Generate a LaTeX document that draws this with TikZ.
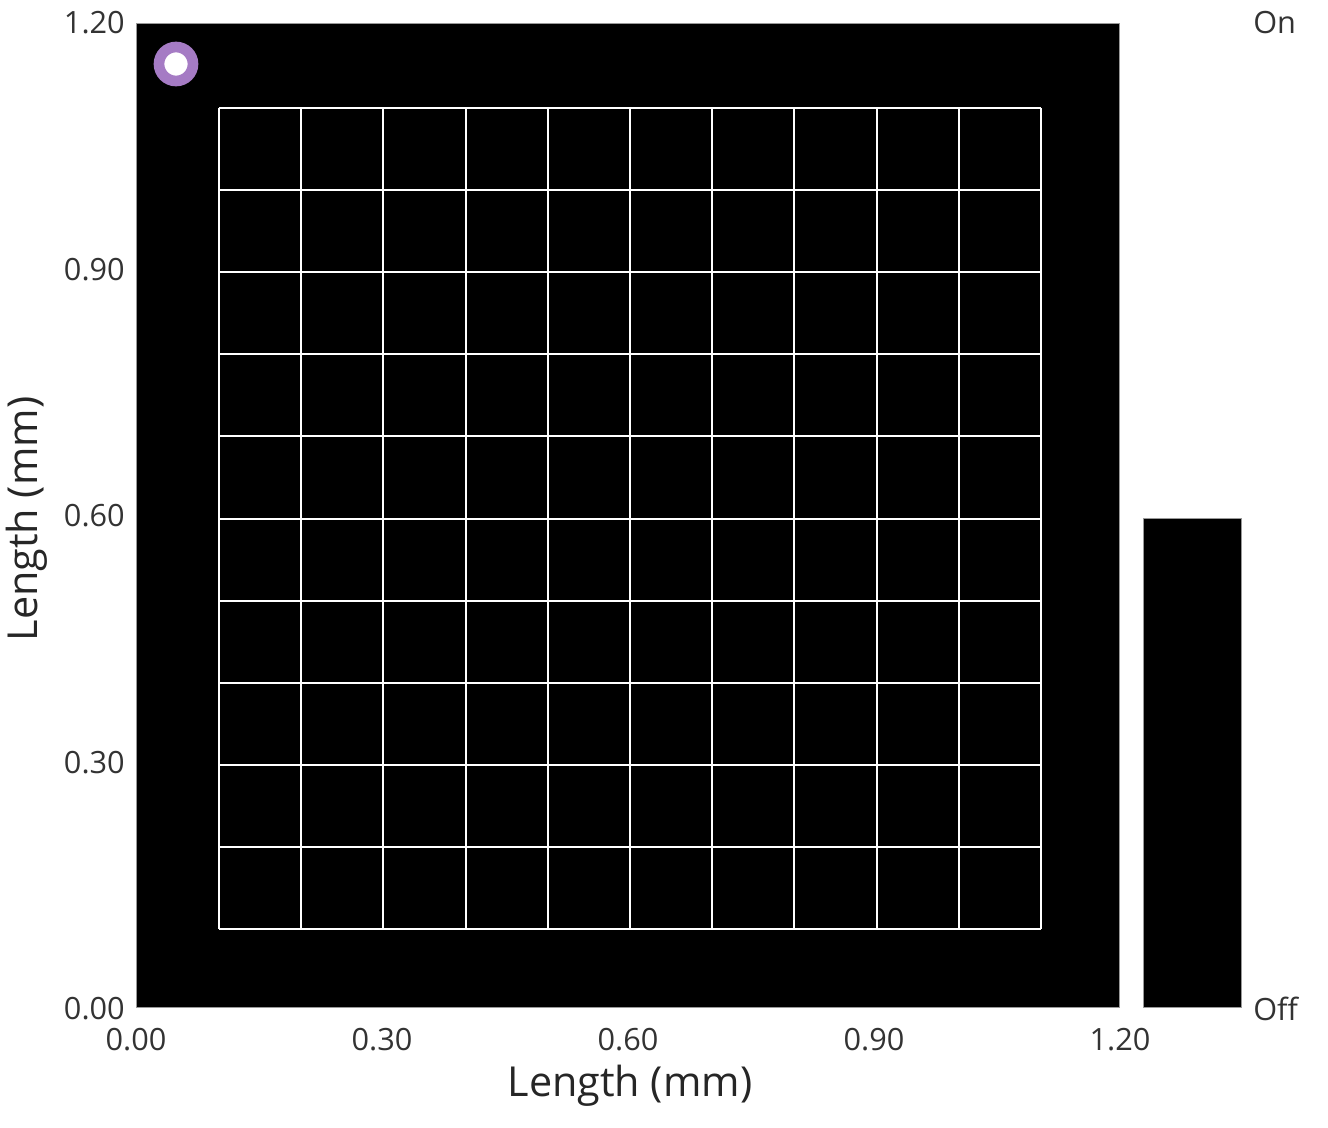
\documentclass[tikz,border=0pt]{standalone}
\usepackage{fontspec}
\setmainfont{Open Sans}
\definecolor{ringpurple}{HTML}{A57BC4}
\begin{document}
\begin{tikzpicture}[x=0.75pt,y=-0.75pt,
  tick/.style={font=\fontsize{23}{26}\selectfont, text=black!80, inner sep=0pt},
  axlabel/.style={font=\fontsize{31}{36}\selectfont, text=black!85, inner sep=0pt},
  gridline/.style={white, line width=1.5pt}]
\useasboundingbox (0,0) rectangle (1328,1128);
\fill[white] (0,0) rectangle (1328,1128);
% plot area
\node[draw=black!40, fill=black, line width=0.6pt, minimum width=983*0.75pt, minimum height=984*0.75pt, inner sep=0pt, anchor=north west] (plot) at (136,23) {};
% grid
\foreach \i in {0,...,10} {
  \pgfmathsetmacro{\gx}{219+\i*82.2}
  \pgfmathsetmacro{\gy}{108+\i*82.1}
  \draw[gridline] (\gx,108) -- (\gx,929);
  \draw[gridline] (219,\gy) -- (1041,\gy);
}
% marker
\node[circle, draw=ringpurple, fill=white, line width=8pt, minimum size=34*0.75pt, inner sep=0pt] (marker) at (176,64) {};
% colorbar
\node[draw=black!40, fill=black, line width=0.6pt, minimum width=98*0.75pt, minimum height=489*0.75pt, inner sep=0pt, anchor=north west] (cbar) at (1143,518) {};
\node[tick, anchor=west] (on) at (1253,23) {On};
\node[tick, anchor=west] (off) at (1253,1009) {Off};
% y ticks
\node[tick, anchor=east] (y120) at (125,23) {1.20};
\node[tick, anchor=east] (y090) at (125,270) {0.90};
\node[tick, anchor=east] (y060) at (125,516) {0.60};
\node[tick, anchor=east] (y030) at (125,763) {0.30};
\node[tick, anchor=east] (y000) at (125,1009) {0.00};
% x ticks
\node[tick] (x000) at (136,1040) {0.00};
\node[tick] (x030) at (382,1040) {0.30};
\node[tick] (x060) at (628,1040) {0.60};
\node[tick] (x090) at (874,1040) {0.90};
\node[tick] (x120) at (1120,1040) {1.20};
% axis labels
\node[axlabel] (xlab) at (630,1086) {Length (mm)};
\node[axlabel, rotate=90] (ylab) at (27,519) {Length (mm)};
\end{tikzpicture}
\end{document}
